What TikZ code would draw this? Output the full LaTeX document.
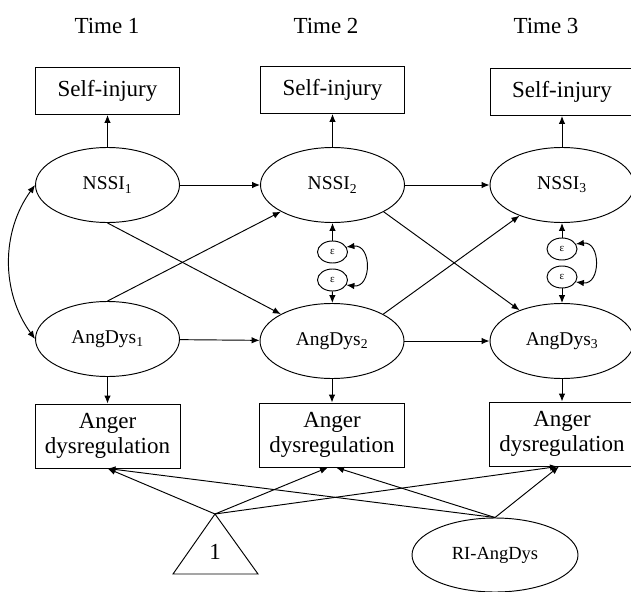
\documentclass[tikz,border=0pt]{standalone}
\usepackage{fontspec}
\setmainfont{Liberation Serif}
\usetikzlibrary{arrows.meta,shapes.geometric,calc}
\begin{document}
\begin{tikzpicture}[x=1pt,y=-1pt,
  line width=0.95pt,
  >={Latex[length=8pt,width=6.5pt]},
  lat/.style={draw,ellipse,inner sep=0pt,minimum width=144pt,minimum height=75pt,font=\fontsize{19.5}{21}\selectfont},
  obsbox/.style={draw,rectangle,inner sep=0pt,minimum width=144pt,minimum height=47pt,font=\fontsize{23}{25}\selectfont},
  angbox/.style={draw,rectangle,inner sep=0pt,minimum width=145pt,minimum height=64pt,align=center,font=\fontsize{23}{25}\selectfont},
  err/.style={draw,ellipse,inner sep=0pt,minimum width=30pt,minimum height=22pt,font=\fontsize{11}{12}\selectfont},
  timelab/.style={font=\fontsize{23}{25}\selectfont},
  riell/.style={draw,ellipse,inner sep=0pt,minimum width=166pt,minimum height=74pt,font=\fontsize{18.5}{20}\selectfont},
  conn/.style={->}
]
\useasboundingbox (0,0) rectangle (631,591);

% time labels
\node[timelab] (t1) at (107,26) {Time 1};
\node[timelab] (t2) at (326,26) {Time 2};
\node[timelab] (t3) at (546,26) {Time 3};

% observed self-injury
\node[obsbox] (s1) at (107.5,91) {Self-injury};
\node[obsbox] (s2) at (332.5,90) {Self-injury};
\node[obsbox] (s3) at (562,92) {Self-injury};

% latent NSSI
\node[lat] (n1) at (107.5,185) {NSSI\textsubscript{1}};
\node[lat] (n2) at (332.5,185) {NSSI\textsubscript{2}};
\node[lat] (n3) at (562,185) {NSSI\textsubscript{3}};

% latent AngDys
\node[lat] (a1) at (107.5,339) {AngDys\textsubscript{1}};
\node[lat] (a2) at (332,341) {AngDys\textsubscript{2}};
\node[lat] (a3) at (562,341) {AngDys\textsubscript{3}};

% residuals
\node[err] (e2a) at (332.5,252) {ε};
\node[err] (e2b) at (332.5,280) {ε};
\node[err] (e3a) at (562,249) {ε};
\node[err] (e3b) at (562,277) {ε};

% anger boxes
\node[angbox] (g1) at (107.5,436) {Anger\\dysregulation};
\node[angbox] (g2) at (332,435) {Anger\\dysregulation};
\node[angbox] (g3) at (562,434) {Anger\\dysregulation};

% intercept triangle and random intercept
\coordinate (apex) at (215,514);
\coordinate (tbr) at (258,574);
\coordinate (tbl) at (173,574);
\draw (apex) -- (tbr) -- (tbl) -- cycle;
\node[font=\fontsize{23}{25}\selectfont] (one) at (215,552) {1};
\node[riell] (ri) at (495,555) {RI-AngDys};

% measurement arrows
\draw[conn] (n1) -- (s1);
\draw[conn] (n2) -- (s2);
\draw[conn] (n3) -- (s3);
\draw[conn] (a1) -- (g1);
\draw[conn] (a2) -- (g2);
\draw[conn] (a3) -- (g3);

% autoregressive
\draw[conn] (n1) -- (n2);
\draw[conn] (n2) -- (n3);
\draw[conn] (a1) -- (a2);
\draw[conn] (a2) -- (a3);

% cross-lagged
\draw[conn] (n1.south) -- (a2);
\draw[conn] (a1.north) -- (n2);
\draw[conn] (n2.south east) -- (a3);
\draw[conn] (a2.north east) -- (n3);

% residual arrows
\draw[conn] (e2a) -- (n2);
\draw[conn] (e2b) -- (a2);
\draw[conn] (e3a) -- (n3);
\draw[conn] (e3b) -- (a3);
\draw[<->] (e2a.20) .. controls (372,244) and (372,288) .. (e2b.-20);
\draw[<->] (e3a.20) .. controls (601,241) and (601,285) .. (e3b.-20);

% time 1 covariance
\draw[<->] (n1.west) .. controls (1,232) and (1,292) .. (a1.west);

% intercept / random intercept loadings
\draw[conn] (apex) -- (g1.south);
\draw[conn] (apex) -- ($(g2.south)+(-4,0)$);
\draw[conn] (apex) -- ($(g3.south)+(-4,0)$);
\draw[conn] (ri.north) -- (g1.south);
\draw[conn] (ri.north) -- ($(g2.south)+(4,0)$);
\draw[conn] (ri.north) -- ($(g3.south)+(-3,0)$);
\end{tikzpicture}
\end{document}
